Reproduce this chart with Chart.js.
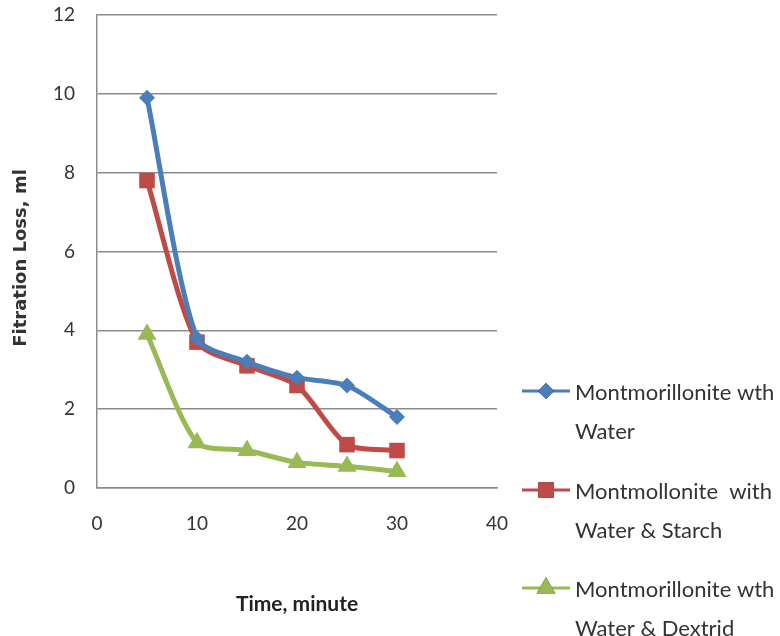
<!DOCTYPE html>
<html>
<head>
<meta charset="utf-8">
<script src="https://cdn.jsdelivr.net/npm/chart.js"></script>
<style>
  html, body { margin: 0; padding: 0; background: #fff; }
  #wrap { width: 780px; height: 636px; }
</style>
</head>
<body>
<div id="wrap"><canvas id="chart" width="780" height="636"></canvas></div>
<script>
// values
const times = [5, 10, 15, 20, 25, 30];
const waterOnly = [9.9, 3.8, 3.2, 2.8, 2.6, 1.8];
const waterStarch = [7.8, 3.7, 3.1, 2.6, 1.1, 0.95];
const waterDextrid = [3.9, 1.15, 0.95, 0.65, 0.55, 0.42];
const seriesNames = [
    ['Montmorillonite wth', 'Water'],
    ['Montmollonite  with', 'Water & Starch'],
    ['Montmorillonite wth', 'Water & Dextrid']
];
const xTicks = [0, 10, 20, 30, 40];
const yTicks = [0, 2, 4, 6, 8, 10, 12];

const toPoints = function (vals) {
    return times.map((t, i) => ({ x: t, y: vals[i] }));
}

const lineSet = function (name, vals, color, style, radius) {
    return {
        label: name.join(' '),
        legendLines: name,
        data: toPoints(vals),
        borderColor: color,
        backgroundColor: color,
        borderWidth: 5,
        pointStyle: style,
        pointRadius: radius,
        pointBorderWidth: 0,
        tension: 0.25
    };
}

// white background
const bgPlugin = {
    id: 'bg',
    beforeDraw(chart) {
        const ctx = chart.ctx;
        ctx.save();
        ctx.fillStyle = '#fff';
        ctx.fillRect(0, 0, chart.width, chart.height);
        ctx.restore();
    }
};

// y title and the two-line legend on the right
const sidePlugin = {
    id: 'side',
    afterDraw(chart) {
        const ctx = chart.ctx;
        const area = chart.chartArea;
        ctx.save();
        ctx.translate(21, 258);
        ctx.rotate(-Math.PI / 2);
        ctx.font = 'bold 18px "DejaVu Sans"';
        ctx.fillStyle = '#333';
        ctx.textAlign = 'center';
        ctx.textBaseline = 'middle';
        ctx.fillText('Fitration Loss, ml', 0, 0);
        ctx.restore();

        const tops = [391, 490, 588];
        ctx.save();
        chart.data.datasets.forEach((ds, i) => {
            const y = tops[i];
            ctx.strokeStyle = ds.borderColor;
            ctx.lineWidth = 3;
            ctx.beginPath();
            ctx.moveTo(area.right + 25, y);
            ctx.lineTo(area.right + 73, y);
            ctx.stroke();
            Chart.helpers.drawPoint(ctx, {
                pointStyle: ds.pointStyle,
                radius: ds.pointRadius,
                borderWidth: 0,
                rotation: 0
            }, area.right + 49, y);
            ctx.fillStyle = ds.borderColor;
            ctx.fill();
            ctx.fillStyle = '#333';
            ctx.font = '22px Lato';
            ctx.textAlign = 'left';
            ctx.textBaseline = 'middle';
            ds.legendLines.forEach((ln, j) => {
                ctx.fillText(ln, area.right + 78, y + 2 + j * 39);
            });
        });
        ctx.restore();
    }
};

new Chart(document.getElementById('chart'), {
    type: 'line',
    data: {
        datasets: [
            lineSet(seriesNames[0], waterOnly, '#4a7ebb', 'rectRot', 8),
            lineSet(seriesNames[1], waterStarch, '#be4b48', 'rect', 11),
            lineSet(seriesNames[2], waterDextrid, '#98b954', 'triangle', 11)
        ]
    },
    options: {
        responsive: false,
        animation: false,
        layout: { padding: { top: 0, right: 283, left: 0, bottom: 0 } },
        plugins: {
            legend: { display: false },
            tooltip: { enabled: false }
        },
        scales: {
            x: {
                type: 'linear',
                min: 0,
                max: 40,
                afterFit(scale) { scale.height = 148; },
                afterBuildTicks(scale) { scale.ticks = xTicks.map(v => ({ value: v })); },
                grid: { display: false, drawTicks: false },
                border: { display: true, color: '#8c8c8c', width: 1.5 },
                ticks: {
                    padding: 24,
                    color: '#333',
                    font: { family: 'Lato', size: 19 }
                },
                title: {
                    display: true,
                    text: 'Time, minute',
                    color: '#222',
                    font: { family: 'Lato', size: 21, weight: 'bold' },
                    padding: { top: 0, bottom: 19 }
                }
            },
            y: {
                type: 'linear',
                min: 0,
                max: 12,
                afterFit(scale) {
                    scale.width = 97;
                    // tick padding would otherwise push the plot top down
                    scale.paddingTop = 15;
                },
                afterBuildTicks(scale) { scale.ticks = yTicks.map(v => ({ value: v })); },
                grid: { color: '#8c8c8c', lineWidth: 1.5, drawTicks: false },
                border: { display: true, color: '#8c8c8c', width: 1.5 },
                ticks: {
                    padding: 22,
                    color: '#333',
                    font: { family: 'Lato', size: 19 }
                }
            }
        }
    },
    plugins: [bgPlugin, sidePlugin]
});
</script>
</body>
</html>
